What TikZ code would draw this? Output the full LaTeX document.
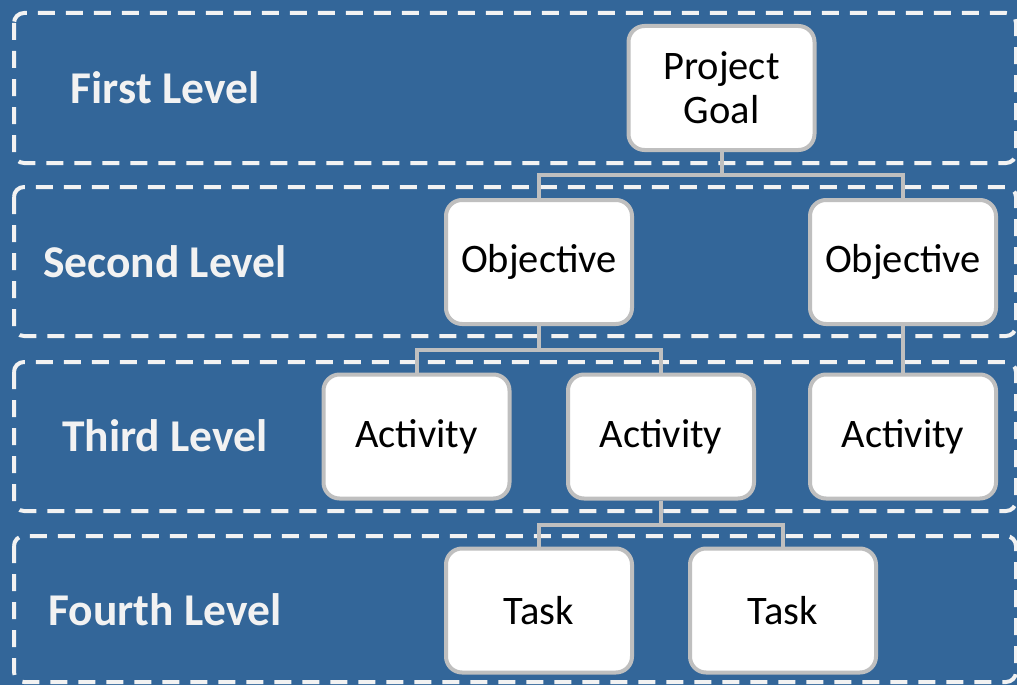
\documentclass[tikz,border=0pt]{standalone}
\usepackage{fontspec}
\setmainfont{Carlito}
\definecolor{bgblue}{HTML}{336699}
\definecolor{dashwhite}{HTML}{F2F2F2}
\definecolor{boxgray}{HTML}{BFBFBF}
\begin{document}
\begin{tikzpicture}[x=1pt,y=-1pt,
  band/.style={draw=dashwhite, line width=4pt, dash pattern=on 17pt off 11pt, rounded corners=10pt},
  box/.style={draw=boxgray, fill=white, line width=4pt, rounded corners=16pt,
    minimum width=186pt, minimum height=124pt, inner sep=0pt, align=center,
    font=\fontsize{40.5}{44}\selectfont},
  lvl/.style={text=dashwhite, font=\bfseries\fontsize{45.5}{50}\selectfont},
  link/.style={draw=boxgray, line width=4pt}]
% background
\fill[bgblue] (0,0) rectangle (1017,685);
\useasboundingbox (0,0) rectangle (1017,685);
% level bands
\begin{scope}
\clip (0,0) rectangle (1017,685);
\draw[band] (14,13) rectangle (1016,163);
\draw[band] (14,187) rectangle (1016,336);
\draw[band] (14,362) rectangle (1016,511);
\draw[band] (14,536) rectangle (1016,682);
\end{scope}
% level labels
\node[lvl] (l1) at (165,88) {First Level};
\node[lvl] (l2) at (165,262) {Second Level};
\node[lvl] (l3) at (165,436) {Third Level};
\node[lvl] (l4) at (165,610) {Fourth Level};
% hierarchy boxes
\node[box] (pg) at (721.5,88) {Project\\Goal};
\node[box] (o1) at (539,262) {Objective};
\node[box] (o2) at (903,262) {Objective};
\node[box] (a1) at (416.5,436.5) {Activity};
\node[box] (a2) at (661,436.5) {Activity};
\node[box] (a3) at (903,436.5) {Activity};
\node[box] (t1) at (539,610.5) {Task};
\node[box] (t2) at (783,610.5) {Task};
% connectors
\draw[link] (pg.south) -- ++(0,23) -| (o1.north);
\draw[link] (pg.south) -- ++(0,23) -| (o2.north);
\draw[link] (o1.south) -- ++(0,24) -| (a1.north);
\draw[link] (o1.south) -- ++(0,24) -| (a2.north);
\draw[link] (o2.south) -- (a3.north);
\draw[link] (a2.south) -- ++(0,24) -| (t1.north);
\draw[link] (a2.south) -- ++(0,24) -| (t2.north);
\end{tikzpicture}
\end{document}
